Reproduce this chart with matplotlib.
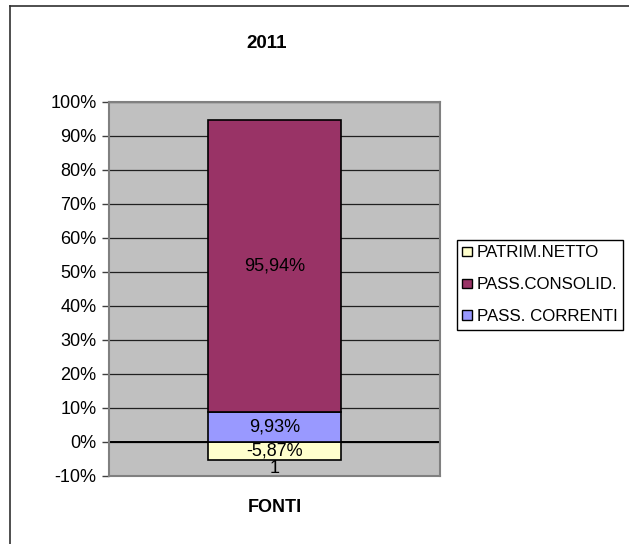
import matplotlib
matplotlib.use("Agg")
import matplotlib.pyplot as plt
from matplotlib.lines import Line2D
from matplotlib.patches import Patch
import numpy as np

plt.rcParams['font.family'] = ['Liberation Sans', 'DejaVu Sans']

title = "2011"
categories = ["1"]
axis_title = "FONTI"
series_names = ["PATRIM.NETTO", "PASS.CONSOLID.", "PASS. CORRENTI"]
series_values = [-5.87, 95.94, 9.93]   # shown labels (%)
series_colors = ["#FFFFCC", "#993366", "#9999FF"]
ytick_values = list(range(-10, 101, 10))

W, H = 629, 544
FS = 13
fig = plt.figure(figsize=(W / 100, H / 100), dpi=100)
ax = fig.add_axes([109 / W, 1 - 476 / H, (440 - 109) / W, (476 - 102) / H])
ax.set_facecolor("#C0C0C0")

# 100% stacked: normalise by the sum of absolute values
vals = np.array(series_values, dtype=float)
norm = vals / np.abs(vals).sum() * 100

x = np.arange(len(categories))
pos_bottom = 0.0
neg_bottom = 0.0
# stacking order: PATRIM.NETTO (neg), PASS. CORRENTI, PASS.CONSOLID.
order = [0, 2, 1]
for i in order:
    v = norm[i]
    if v >= 0:
        b = pos_bottom
        pos_bottom += v
    else:
        b = neg_bottom
        neg_bottom += v
    ax.bar(x, v, bottom=b, width=0.4, color=series_colors[i],
           edgecolor="black", linewidth=1.2, zorder=3)
    lab = f"{series_values[i]:.2f}".replace(".", ",") + "%"
    ax.text(x[0], b + v / 2, lab, ha="center", va="center",
            fontsize=FS, color="black", zorder=4)

ax.set_xlim(-0.5, 0.5)
ax.set_ylim(-10, 100)
ax.set_yticks(ytick_values)
ax.set_yticklabels([f"{t}%" for t in ytick_values], fontsize=FS)
ax.set_xticks([])
ax.tick_params(axis="y", length=5, width=1, color="#404040", pad=4)
for t in ytick_values:
    ax.axhline(t, color="#202020", linewidth=0.9, zorder=1)
ax.axhline(0, color="black", linewidth=1.4, zorder=2)
for s in ax.spines.values():
    s.set_color("#808080")
    s.set_linewidth(1.5)

# category label
ax.text(x[0], -7.9, categories[0], ha="center", va="center", fontsize=FS, zorder=4)

fig.text(267 / W, 1 - 43 / H, title, ha="center", va="center",
         fontsize=13.5, fontweight="bold")
fig.text(275 / W, 1 - 508 / H, axis_title, ha="center", va="center",
         fontsize=FS, fontweight="bold")

handles = [Patch(facecolor=series_colors[i], edgecolor="black", linewidth=1)
           for i in range(len(series_names))]
fig.legend(handles, series_names, loc="upper left",
           bbox_to_anchor=(457 / W, 1 - 240 / H), fontsize=12.2,
           frameon=True, fancybox=False, edgecolor="black", framealpha=1,
           handlelength=0.55, handleheight=0.5, handletextpad=0.3,
           labelspacing=1.0, borderpad=0.32, borderaxespad=0)

# outer chart border (top and left visible)
fig.add_artist(Line2D([10 / W, 1.01], [1 - 6 / H, 1 - 6 / H],
                      transform=fig.transFigure, color="#303030", linewidth=1.2))
fig.add_artist(Line2D([10 / W, 10 / W], [1 - 6 / H, -0.01],
                      transform=fig.transFigure, color="#303030", linewidth=1.2))

fig.savefig("out.png", dpi=100)
